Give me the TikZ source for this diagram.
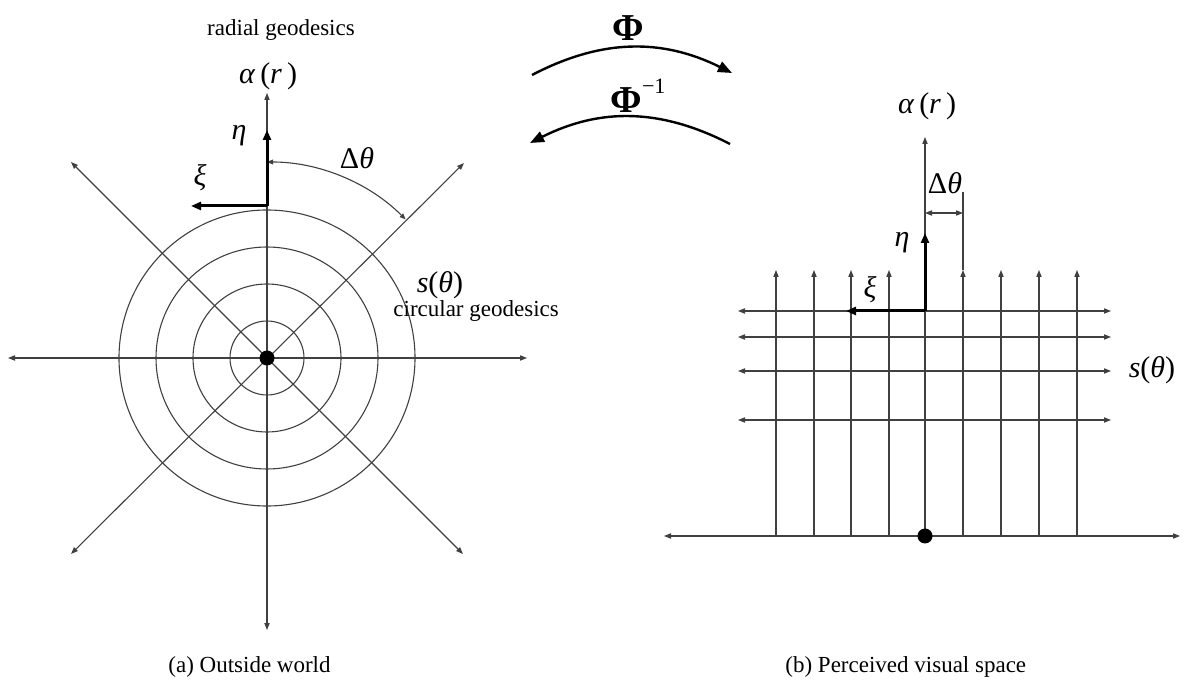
\documentclass[tikz,border=0pt]{standalone}
\usepackage{fontspec}
\setmainfont{Liberation Serif}
\usetikzlibrary{arrows.meta}
\begin{document}
\begin{tikzpicture}[x=0.5pt,y=-0.5pt,
  thinline/.style={draw=black!75, line width=0.55pt},
  ax/.style={thinline, {Triangle[length=3.5pt,width=2.6pt]}-{Triangle[length=3.5pt,width=2.6pt]}},
  uparr/.style={thinline, -{Triangle[length=3.5pt,width=2.6pt]}},
  vec/.style={draw=black, line width=1.5pt, -{Triangle[length=5pt,width=4pt]}},
  mapar/.style={draw=black, line width=1.2pt, -{Triangle[length=7pt,width=5.5pt]}},
  lbl/.style={font=\fontsize{11.5}{13}\selectfont, inner sep=0pt},
  mth/.style={font=\fontsize{15}{17}\selectfont, inner sep=0pt},
  dot/.style={circle, fill=black, inner sep=0pt, minimum size=7.5pt},
]
\useasboundingbox (0,0) rectangle (1200,689);

% ---------- left: outside world ----------
\coordinate (o) at (267,358);
\foreach \r in {18.5,37,55.5,74} \draw[thinline] (o) circle[radius=\r pt];
\coordinate (vt) at (267,93);
\coordinate (vb) at (267,630);
\coordinate (hl) at (8,358);
\coordinate (hr) at (527,358);
\coordinate (d1) at (71,162);
\coordinate (d2) at (463,554);
\coordinate (d3) at (464,163);
\coordinate (d4) at (71,554);
\draw[ax] (vb) -- (vt);
\draw[ax] (hl) -- (hr);
\draw[ax] (d1) -- (d2);
\draw[ax] (d4) -- (d3);
\draw[thinline, {Triangle[length=3pt,width=2.4pt]}-{Triangle[length=3pt,width=2.4pt]}]
  (o) ++(90:98pt) arc[start angle=90, end angle=45, radius=98pt];
\coordinate (f) at (267,206);
\coordinate (etaT) at (267,130);
\coordinate (xiT) at (191,206);
\draw[vec] (f) -- (etaT);
\draw[vec] (f) -- (xiT);
\node[dot] (c) at (o) {};

\node[lbl] (rg) at (281,30) {radial geodesics};
\node[mth] (al) at (268,76) {\textit{α}\,(\textit{r}\,)};
\node[mth] (eta) at (239,136) {\textit{η}};
\node[mth] (dth) at (357,158) {Δ\textit{θ}};
\node[mth] (xi) at (200,178) {\textit{ξ}};
\node[mth] (st) at (440,285) {\textit{s}(\textit{θ})};
\node[lbl, anchor=west] (cg) at (393,311) {circular geodesics};
\node[lbl, anchor=west] (capa) at (168,667) {(a) Outside world};

% ---------- maps ----------
\coordinate (p1) at (532,75);
\coordinate (p2) at (732,73);
\coordinate (q1) at (730,144);
\coordinate (q2) at (530,143);
\draw[mapar] (p1) to[bend left=27] (p2);
\draw[mapar] (q1) to[bend right=27] (q2);
\node[font=\fontsize{19}{20}\selectfont\bfseries, inner sep=0pt] (phi) at (628,28) {Φ};
\node[inner sep=0pt] (phiinv) at (638,96) {\fontsize{19}{20}\selectfont\bfseries Φ\raisebox{1.1ex}{\fontsize{11}{12}\selectfont\mdseries −1}};

% ---------- right: perceived visual space ----------
\coordinate (o2) at (925,536);
\coordinate (bl) at (664,536);
\coordinate (br) at (1180,536);
\coordinate (at) at (925,137);
\foreach \x in {776,814,851,889,963,1001,1039,1077}
  \draw[uparr] (\x,536) -- (\x,270);
\draw[thinline] (963,270) -- (963,192);
\foreach \y in {311,337,371,420}
  \draw[ax] (738,\y) -- (1111,\y);
\draw[ax] (bl) -- (br);
\draw[uparr] (o2) -- (at);
\coordinate (f2) at (925,311);
\coordinate (eta2) at (925,233);
\coordinate (xi2) at (846,311);
\draw[vec] (f2) -- (eta2);
\draw[vec] (f2) -- (xi2);
\coordinate (dA) at (925,213);
\coordinate (dB) at (963,213);
\draw[ax] (dA) -- (dB);
\node[dot] (c2) at (o2) {};

\node[mth] (al2) at (927,106) {\textit{α}\,(\textit{r}\,)};
\node[mth] (dth2) at (945,183) {Δ\textit{θ}};
\node[mth] (eta2l) at (902,243) {\textit{η}};
\node[mth] (xi2l) at (870,290) {\textit{ξ}};
\node[mth] (st2) at (1152,370) {\textit{s}(\textit{θ})};
\node[lbl, anchor=west] (capb) at (785,667) {(b) Perceived visual space};
\end{tikzpicture}
\end{document}
